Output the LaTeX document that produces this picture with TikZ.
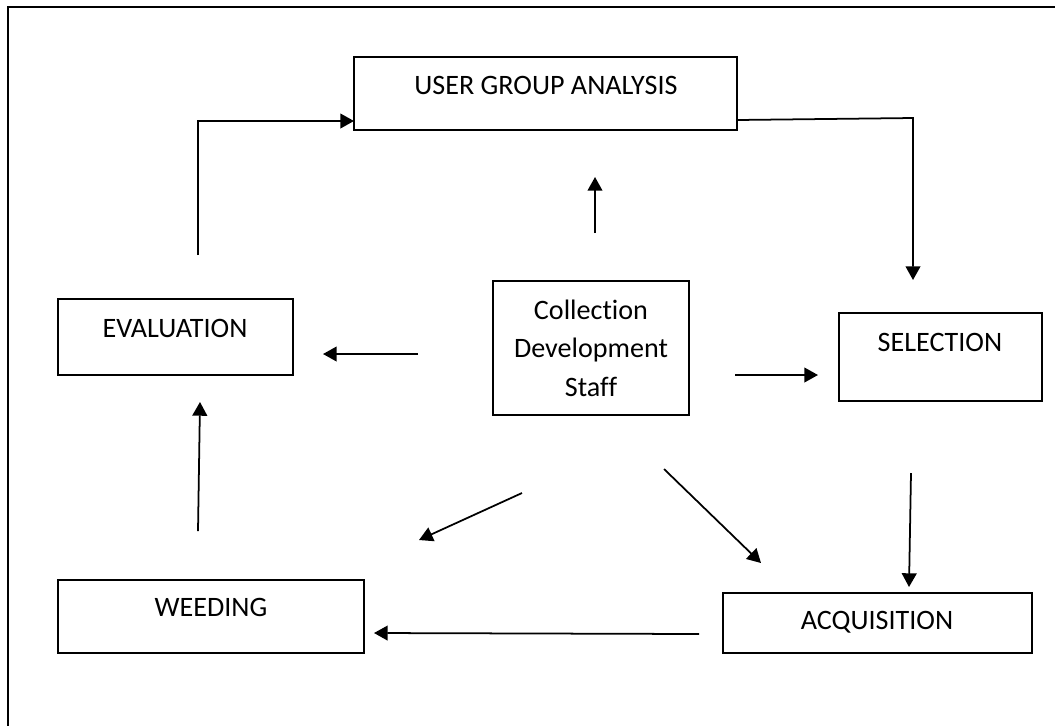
\documentclass[tikz,border=0pt]{standalone}
\usepackage{fontspec}
\setmainfont[Ligatures=NoCommon]{Carlito}
\usetikzlibrary{shapes,arrows.meta,positioning,calc}

\begin{document}
\begin{tikzpicture}[x=0.02cm, y=-0.02cm, >={Triangle[length=7.8pt,width=8.4pt]}]
    \tikzstyle{box} = [rectangle, draw=black, line width=1pt, inner sep=0pt]
    \tikzstyle{lbl} = [font=\fontsize{16}{22}\selectfont, align=center, inner sep=0pt]
    \tikzstyle{arrow} = [draw, ->, line width=1pt]

    \useasboundingbox (0,0) rectangle (1055,725);
    \clip (0,0) rectangle (1055,725);
    \draw [line width=1pt] (8,7) rectangle (1090,760);

    \node [box, minimum width=7.66cm, minimum height=1.46cm] (uga) at (545.5,93.5) {};
    \node [box, minimum width=4.70cm, minimum height=1.52cm] (eval) at (175.5,337) {};
    \node [box, minimum width=3.92cm, minimum height=2.68cm] (coll) at (591,348) {};
    \node [box, minimum width=4.06cm, minimum height=1.76cm] (sel) at (940.5,357) {};
    \node [box, minimum width=6.12cm, minimum height=1.46cm] (weed) at (211,616.5) {};
    \node [box, minimum width=6.18cm, minimum height=1.20cm] (acq) at (877.5,623) {};

    \node [lbl] (uga-t) at (546,85) {USER GROUP ANALYSIS};
    \node [lbl] (eval-t) at (175,328) {EVALUATION};
    \node [lbl] (coll-t) at (591,348) {Collection\\Development\\Staff};
    \node [lbl] (sel-t) at (940,342) {SELECTION};
    \node [lbl] (weed-t) at (211,607) {WEEDING};
    \node [lbl] (acq-t) at (877,622) {ACQUISITION};

    \coordinate (eval-up) at (198,255);
    \coordinate (uga-in) at (354,121);
    \coordinate (uga-out) at (737,120);
    \coordinate (sel-bend) at (913,118);
    \coordinate (sel-in) at (913,280);
    \coordinate (up-from) at (595,233);
    \coordinate (up-to) at (595,177);
    \coordinate (left-from) at (418,354);
    \coordinate (left-to) at (323,354);
    \coordinate (right-from) at (735,375);
    \coordinate (right-to) at (818,375);
    \coordinate (down-from) at (911,473);
    \coordinate (down-to) at (909,587);
    \coordinate (dr-from) at (664,469);
    \coordinate (dr-to) at (761,563);
    \coordinate (dl-from) at (522,493);
    \coordinate (dl-to) at (419,540);
    \coordinate (back-from) at (699,634);
    \coordinate (back-to) at (374,633);
    \coordinate (weed-up) at (198,531);
    \coordinate (eval-in) at (200,402);

    \draw [arrow] (eval-up) |- (uga-in);
    \draw [arrow] (uga-out) -- (sel-bend) -- (sel-in);
    \draw [arrow] (up-from) -- (up-to);
    \draw [arrow] (left-from) -- (left-to);
    \draw [arrow] (right-from) -- (right-to);
    \draw [arrow] (down-from) -- (down-to);
    \draw [arrow] (dr-from) -- (dr-to);
    \draw [arrow] (dl-from) -- (dl-to);
    \draw [arrow] (back-from) -- (back-to);
    \draw [arrow] (weed-up) -- (eval-in);
\end{tikzpicture}
\end{document}
